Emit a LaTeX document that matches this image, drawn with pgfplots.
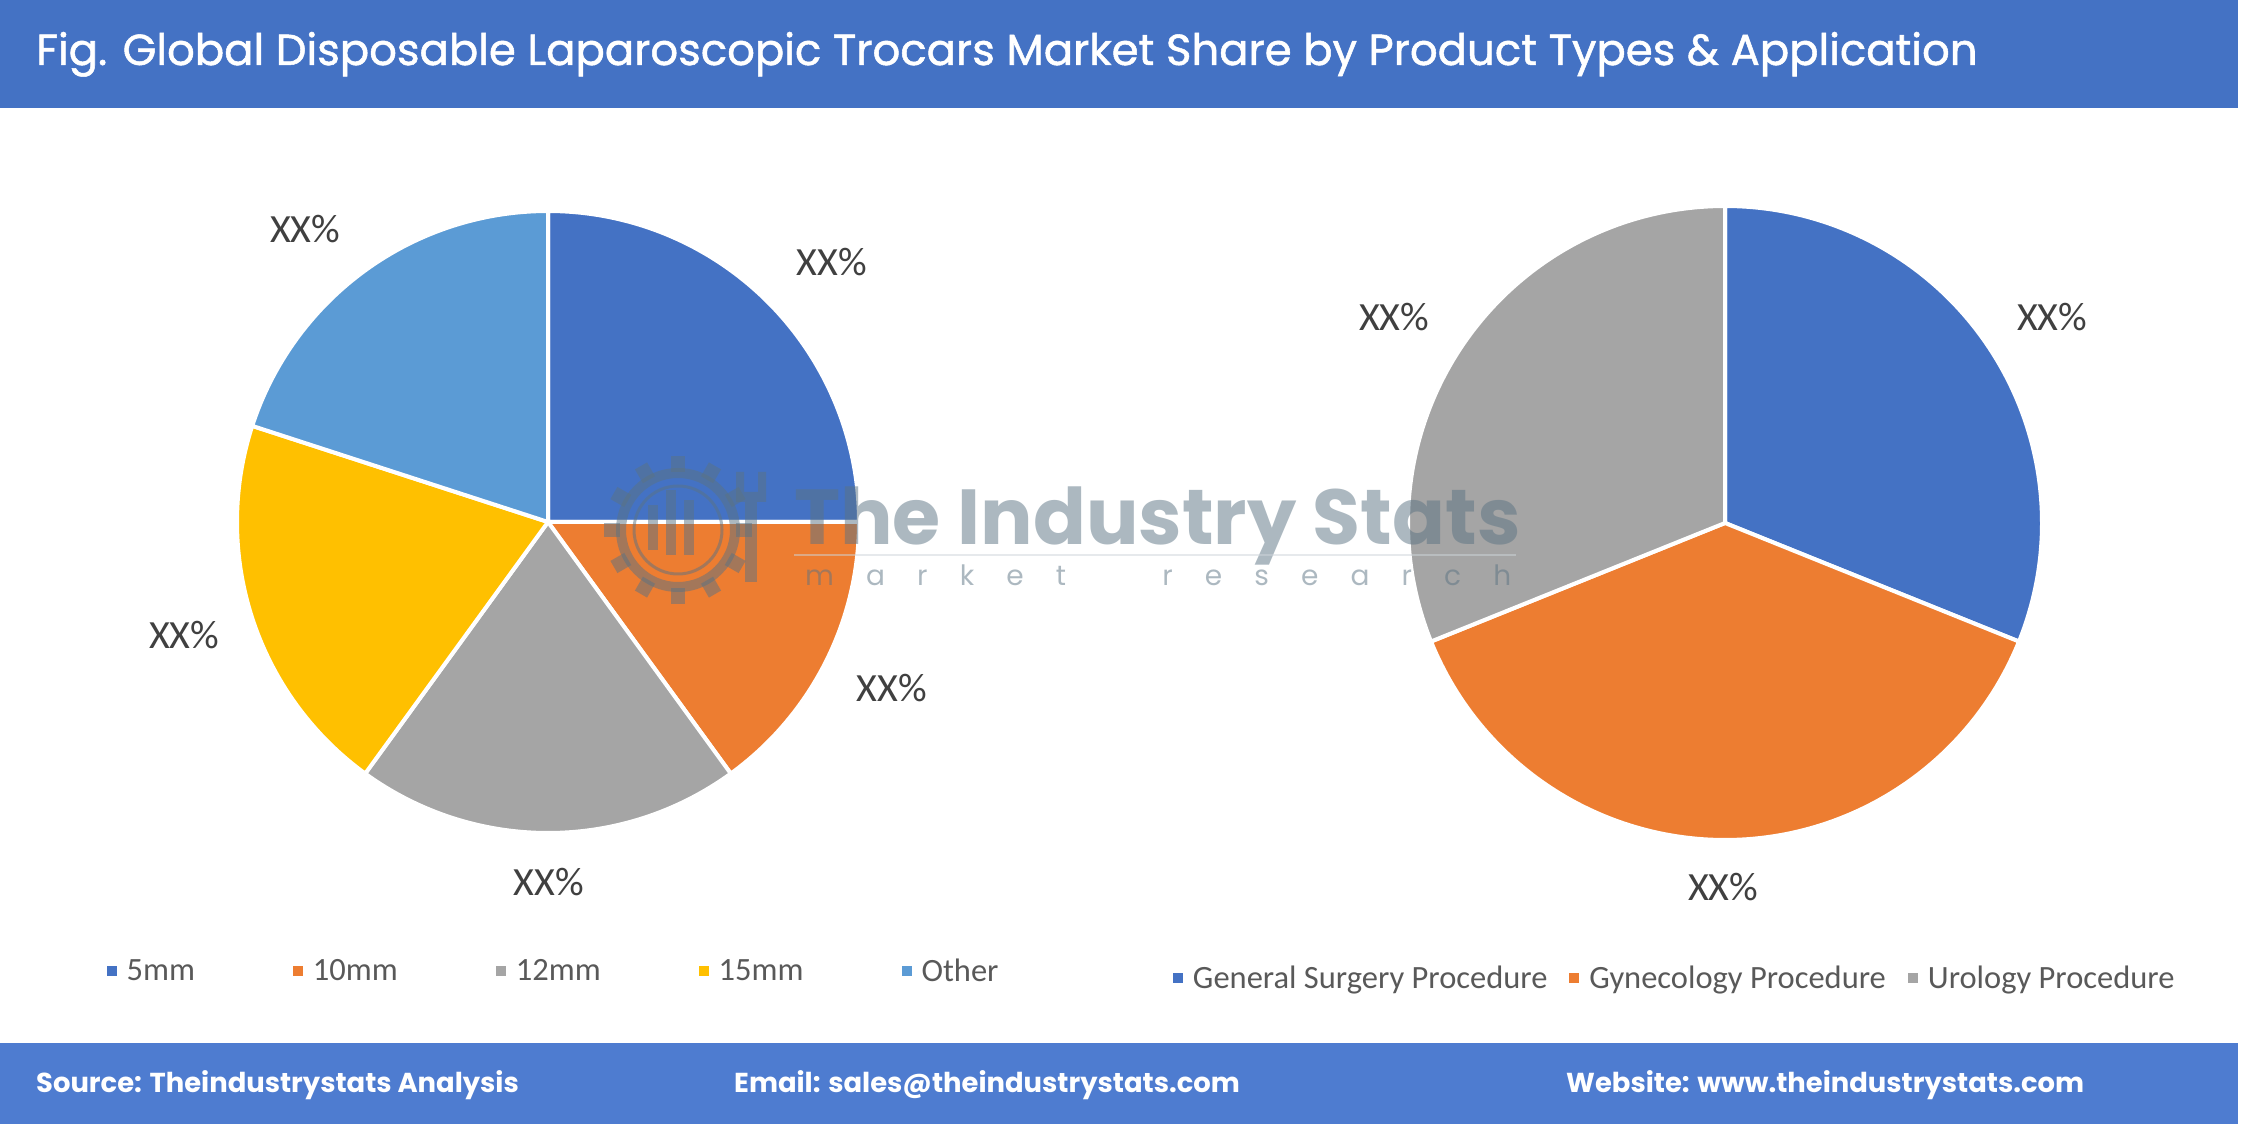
\documentclass[border=0pt]{standalone}
\usepackage{pgfplots}
\pgfplotsset{compat=1.18}
\usepackage{fontspec}
\setmainfont{Carlito}
\newfontfamily\pop{Poppins}
\newfontfamily\popt{Poppins}[FakeBold=1.2]
\definecolor{cBlue}{HTML}{4472C4}
\definecolor{cOrange}{HTML}{ED7D31}
\definecolor{cGray}{HTML}{A5A5A5}
\definecolor{cYellow}{HTML}{FFC000}
\definecolor{cLight}{HTML}{5B9BD5}
\definecolor{banner}{HTML}{4472C4}
\definecolor{footer}{HTML}{4E7CD0}
\definecolor{lbl}{HTML}{404040}
\definecolor{leg}{HTML}{595959}
\definecolor{wm}{HTML}{5B7383}
% colour, cumulative share before the slice (%), share (%), legend text
\newcommand{\pieslice}[4]{%
  \addplot[fill=#1, draw=white, line width=4pt, line join=round,
    domain=90-3.6*(#2+#3):90-3.6*(#2), samples=120]
    ({cos(x)},{sin(x)}) -- (axis cs:0,0) -- cycle;
  \addlegendentry{#4}}
\begin{document}
\begin{tikzpicture}[x=1pt,y=1pt]
\fill[white] (0,0) rectangle (2242,1127);
% title banner
\fill[banner] (0,1019) rectangle (2238,1127);
\node[anchor=base west, inner sep=0pt, text=white, font=\popt\fontsize{43.4}{52}\selectfont] at (36,1062)
  {Fig. Global Disposable Laparoscopic Trocars Market Share by Product Types \& Application};
% footer
\fill[footer] (0,3) rectangle (2238,84);
\node[anchor=base west, inner sep=0pt, text=white, font=\pop\bfseries\fontsize{27.4}{32}\selectfont] at (36,35) {Source: Theindustrystats Analysis};
\node[anchor=base west, inner sep=0pt, text=white, font=\pop\bfseries\fontsize{27.4}{32}\selectfont] at (734,35) {Email: sales@theindustrystats.com};
\node[anchor=base west, inner sep=0pt, text=white, font=\pop\bfseries\fontsize{27.4}{32}\selectfont] at (1566,35) {Website: www.theindustrystats.com};

% ---- pie 1: product types
\begin{axis}[x=311pt, y=311pt, xmin=-1, xmax=1, ymin=-1, ymax=1,
  hide axis, clip=false, anchor=center, at={(548pt,605pt)},
  legend columns=5,
  legend image code/.code={\fill[#1,draw=none] (0pt,-5pt) rectangle (10pt,5pt);},
  legend style={draw=none, fill=none, inner sep=0pt, at={(-0.21,-0.222)}, anchor=west,
    font=\fontsize{32.5}{38}\selectfont, text=leg,
    nodes={inner sep=0pt},
    /tikz/every odd column/.append style={column sep=10pt},
    /tikz/every even column/.append style={column sep=98pt}}]
\pieslice{cBlue}{0}{25}{5mm}
\pieslice{cOrange}{25}{15}{10mm}
\pieslice{cGray}{40}{20}{12mm}
\pieslice{cYellow}{60}{20}{15mm}
\pieslice{cLight}{80}{20}{Other}
\begin{scope}[every node/.style={font=\fontsize{40}{48}\selectfont, text=lbl}]
\node at (axis cs:0.913,0.836) {XX\%};
\node at (axis cs:1.106,-0.534) {XX\%};
\node at (axis cs:0.003,-1.158) {XX\%};
\node at (axis cs:-1.170,-0.363) {XX\%};
\node at (axis cs:-0.781,0.942) {XX\%};
\end{scope}
\end{axis}

% ---- pie 2: application
\begin{axis}[x=317pt, y=317pt, xmin=-1, xmax=1, ymin=-1, ymax=1,
  hide axis, clip=false, anchor=center, at={(1725pt,604pt)},
  legend columns=3,
  legend image code/.code={\fill[#1,draw=none] (0pt,-5pt) rectangle (10pt,5pt);},
  legend style={draw=none, fill=none, inner sep=0pt, at={(-0.371,-0.218)}, anchor=west,
    font=\fontsize{32.5}{38}\selectfont, text=leg,
    nodes={inner sep=0pt},
    /tikz/every odd column/.append style={column sep=10pt},
    /tikz/every even column/.append style={column sep=22pt}}]
\pieslice{cBlue}{0}{31.1}{General Surgery Procedure}
\pieslice{cOrange}{31.1}{37.8}{Gynecology Procedure}
\pieslice{cGray}{68.9}{31.1}{Urology Procedure}
\begin{scope}[every node/.style={font=\fontsize{40}{48}\selectfont, text=lbl}]
\node at (axis cs:1.032,0.650) {XX\%};
\node at (axis cs:-0.006,-1.148) {XX\%};
\node at (axis cs:-1.044,0.650) {XX\%};
\end{scope}
\end{axis}

% ---- watermark
\begin{scope}[opacity=0.5]
  \begin{scope}[shift={(678,597)}]
    \fill[wm, even odd rule] (0,0) circle (62) (0,0) circle (52);
    \foreach \a in {0,30,...,330} \fill[wm, rotate=\a] (-7,58) rectangle (7,74);
    \draw[wm, line width=3pt] (0,0) circle (44);
    \fill[wm] (-30,-20) rectangle (-20,25);
    \fill[wm] (-12,-25) rectangle (-2,40);
    \fill[wm] (6,-25) rectangle (16,30);
  \end{scope}
  \fill[wm] (745,545) rectangle (757,625);
  \fill[wm] (736,625) -- (736,655) -- (744,655) -- (744,635) -- (758,635) -- (758,655) -- (766,655) -- (766,625) -- cycle;
  \node[anchor=base west, inner sep=0pt, text=wm, font=\pop\bfseries\fontsize{78}{88}\selectfont] at (794,582) {The Industry Stats};
  \fill[wm!30] (794,571) rectangle (1516,573);
  \node[anchor=base west, inner sep=0pt, text=wm, font=\pop\fontsize{28}{32}\selectfont] at (805,541)
    {\makebox[706pt][s]{m\hfill a\hfill r\hfill k\hfill e\hfill t\hfill\hfill\hfill r\hfill e\hfill s\hfill e\hfill a\hfill r\hfill c\hfill h}};
\end{scope}
\end{tikzpicture}
\end{document}
